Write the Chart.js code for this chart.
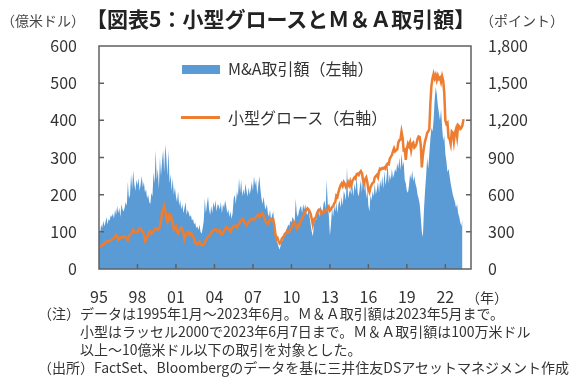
<!DOCTYPE html>
<html>
<head>
<meta charset="utf-8">
<script src="https://cdn.jsdelivr.net/npm/chart.js@4"></script>
<style>
  body { margin: 0; background: #fff; }
  #wrap { position: relative; width: 582px; height: 388px; overflow: hidden;
          font-family: "Noto Sans CJK JP", "Noto Sans", sans-serif; color: #333; }
  #chartBox { position: absolute; left: 0; top: 0; width: 582px; height: 305px; }
  .t { position: absolute; white-space: nowrap; line-height: 1; }
  #title { left: 86px; top: 8px; font-size: 21px; font-weight: bold; color: #222; }
  .unit { top: 13px; font-size: 14px; color: #444; }
  .legText { font-size: 16px; color: #333; }
  .note { font-size: 14px; color: #333; }
</style>
</head>
<body>
<div id="wrap">
  <div id="chartBox"><canvas id="chart"></canvas></div>
  <div class="t unit" style="left:1px">（億米ドル）</div>
  <div class="t" id="title">【図表5：小型グロースとＭ＆Ａ取引額】</div>
  <div class="t unit" style="left:480px">（ポイント）</div>

  <div style="position:absolute;left:182px;top:65px;width:38px;height:9px;background:#5b9bd5"></div>
  <div class="t legText" style="left:228px;top:60px">M&amp;A取引額（左軸）</div>
  <div style="position:absolute;left:181px;top:116px;width:39px;height:3px;background:#ed7d31"></div>
  <div class="t legText" style="left:228px;top:109px">小型グロース（右軸）</div>

  <div class="t" style="left:466px;top:290px;font-size:14px">（年）</div>

  <div class="t note" style="left:38px;top:306px">（注）データは1995年1月～2023年6月。Ｍ＆Ａ取引額は2023年5月まで。</div>
  <div class="t note" style="left:80px;top:324px">小型はラッセル2000で2023年6月7日まで。Ｍ＆Ａ取引額は100万米ドル</div>
  <div class="t note" style="left:80px;top:342px">以上～10億米ドル以下の取引を対象とした。</div>
  <div class="t note" style="left:38px;top:360px">（出所）FactSet、Bloombergのデータを基に三井住友DSアセットマネジメント作成</div>
</div>
<script>
// monthly data, first month = 1995/1
const startYear = 1995;

// M&A deal value (100M USD), 1995/1 - 2023/5
const maValues = [
  105,95,120,110,130,115,125,140,120,135,130,145,
  140,150,135,160,145,170,150,165,140,175,160,155,
  165,180,170,235,190,200,255,215,265,230,210,240,
  225,245,210,230,250,220,235,205,215,190,200,180,
  175,205,195,260,230,320,240,270,215,300,250,290,
  320,260,335,300,250,320,230,255,210,245,200,220,
  195,180,210,170,185,160,175,150,165,180,145,160,
  150,140,145,130,135,120,125,110,115,105,120,100,
  95,110,130,190,150,175,195,160,145,170,150,180,
  165,185,155,175,170,160,180,150,175,165,185,170,
  150,160,140,155,135,150,190,200,175,210,195,245,
  205,240,195,215,200,230,210,195,220,200,215,235,
  210,250,225,240,200,225,250,215,190,175,195,170,
  160,175,150,140,160,130,145,155,120,100,80,70,
  60,52,65,80,75,95,90,105,110,120,115,130,
  125,140,135,120,190,150,140,155,165,170,150,175,
  160,175,150,145,160,140,120,100,88,115,140,130,
  150,165,140,170,160,150,175,185,160,240,175,145,
  90,120,165,140,170,155,180,150,175,185,165,195,
  170,210,200,185,275,190,205,215,200,225,195,230,
  210,250,205,195,220,240,205,265,210,235,190,215,
  170,155,200,185,210,195,230,200,215,235,205,240,
  220,250,215,265,225,245,290,230,255,240,270,245,
  255,270,260,285,270,300,265,310,275,290,240,230,
  210,205,225,255,240,265,235,250,230,220,200,190,
  175,140,100,86,160,210,250,300,270,310,350,380,
  370,400,455,490,470,440,420,400,430,380,345,360,
  310,290,260,270,250,230,215,200,190,180,165,175,
  150,140,125,115,135
];

// small-cap growth index (points), 1995/1 - 2023/6
const growthValues = [
  180,182,188,192,195,203,215,220,226,222,228,232,
  238,245,250,265,275,262,235,245,255,250,258,258,
  262,255,240,232,262,272,285,295,318,302,295,298,
  295,315,325,328,310,300,285,225,235,255,275,300,
  305,285,290,305,315,330,325,315,320,345,390,460,
  480,510,470,400,380,425,400,430,410,370,320,335,
  345,300,285,315,325,335,315,295,240,265,285,300,
  290,275,290,280,265,245,210,210,198,205,220,200,
  195,192,198,215,235,248,260,270,272,290,305,310,
  320,315,318,300,305,312,285,280,292,305,330,340,
  325,330,315,300,320,335,350,345,350,335,355,360,
  385,390,405,400,375,370,355,365,375,390,400,400,
  405,400,405,420,430,440,420,425,445,450,430,410,
  380,370,365,385,400,405,395,400,355,280,240,250,
  225,205,212,245,255,265,285,290,305,295,300,325,
  335,350,375,380,355,330,350,340,375,390,405,430,
  440,460,475,490,480,465,445,405,360,400,410,420,
  450,470,480,475,445,460,455,465,480,470,480,500,
  470,480,500,505,530,540,590,580,620,650,675,690,
  670,700,685,660,670,700,675,705,670,710,725,740,
  730,765,770,760,780,790,770,715,690,725,740,700,
  640,620,660,680,695,700,740,750,760,740,790,810,
  805,815,810,820,810,840,850,845,890,905,920,950,
  975,950,960,965,1020,1040,1045,1108,1060,960,965,880,
  970,1010,990,1020,960,1010,1020,980,990,1010,1050,1070,
  1065,1000,820,920,980,1030,1060,1100,1110,1130,1340,1480,
  1540,1575,1540,1565,1525,1560,1535,1545,1510,1555,1520,1420,
  1200,1170,1180,1060,1050,1010,1110,1100,1030,1100,1130,1070,
  1160,1150,1130,1140,1160,1210
];

const xTickYears = [1995,1998,2001,2004,2007,2010,2013,2016,2019,2022];

function toPoints(values) {
    return values.map((v, i) => ({ x: startYear + i / 12, y: v }));
}

const frameColor = "#606060";
const tickFont = { family: "Noto Sans CJK JP", size: 16 };

// box round the plot and short ticks pointing inwards
const framePlugin = {
    id: "frame",
    afterDatasetsDraw(chart) {
        const { ctx, chartArea: a, scales } = chart;
        ctx.save();
        ctx.strokeStyle = frameColor;
        ctx.lineWidth = 1.5;
        ctx.beginPath();
        for (let v = 100; v < 600; v += 100) {
            const y = scales.y.getPixelForValue(v);
            ctx.moveTo(a.left, y); ctx.lineTo(a.left + 5, y);
        }
        for (let v = 300; v < 1800; v += 300) {
            const y = scales.y2.getPixelForValue(v);
            ctx.moveTo(a.right, y); ctx.lineTo(a.right - 5, y);
        }
        xTickYears.slice(1).forEach((yr) => {
            const x = scales.x.getPixelForValue(yr);
            ctx.moveTo(x, a.bottom); ctx.lineTo(x, a.bottom - 5);
        });
        ctx.stroke();
        ctx.strokeRect(a.left, a.top, a.right - a.left, a.bottom - a.top);
        ctx.restore();
    }
};

new Chart(document.getElementById("chart"), {
    type: "line",
    data: {
        datasets: [
            {
                label: "小型グロース（右軸）",
                data: toPoints(growthValues),
                yAxisID: "y2",
                borderColor: "#ed7d31",
                borderWidth: 2.5,
                pointRadius: 0,
                fill: false,
                order: 0,
            },
            {
                label: "M&A取引額（左軸）",
                data: toPoints(maValues),
                yAxisID: "y",
                borderWidth: 0,
                backgroundColor: "#5b9bd5",
                pointRadius: 0,
                fill: "origin",
                order: 1,
            },
        ],
    },
    plugins: [framePlugin],
    options: {
        responsive: true,
        maintainAspectRatio: false,
        animation: false,
        layout: { padding: { top: 46, left: 0, right: 0, bottom: 0 } },
        plugins: { legend: { display: false }, tooltip: { enabled: false } },
        scales: {
            x: {
                type: "linear",
                min: 1995,
                max: 2024,
                grid: { display: false },
                border: { display: false },
                afterFit: (s) => { s.height = 36; },
                afterBuildTicks: (s) => { s.ticks = xTickYears.map((v) => ({ value: v })); },
                ticks: {
                    autoSkip: false,
                    maxRotation: 0,
                    padding: 10,
                    color: "#333",
                    font: tickFont,
                    callback: (v) => String(Math.round(v) % 100).padStart(2, "0"),
                },
            },
            y: {
                position: "left",
                min: 0,
                max: 600,
                grid: { display: false },
                border: { display: false },
                afterFit: (s) => { s.width = 99; },
                ticks: { stepSize: 100, padding: 14, color: "#333", font: tickFont },
            },
            y2: {
                position: "right",
                min: 0,
                max: 1800,
                grid: { display: false },
                border: { display: false },
                afterFit: (s) => { s.width = 111; },
                ticks: {
                    stepSize: 300,
                    padding: 9,
                    color: "#333",
                    font: tickFont,
                    callback: (v) => v.toLocaleString("en-US"),
                },
            },
        },
    },
});
</script>
</body>
</html>
